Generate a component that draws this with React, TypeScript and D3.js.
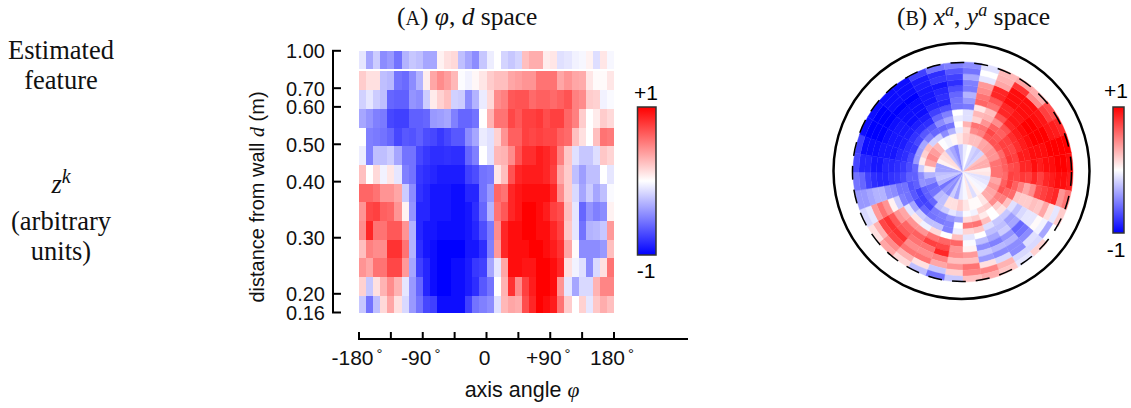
import React from "react";
import * as d3 from "d3";

// distance from wall at the edges of each polar ring, wall side last
const distanceEdges = [1.14, 0.89, 0.79, 0.7375, 0.685, 0.6325, 0.58, 0.5275, 0.475, 0.4225, 0.37, 0.3175, 0.265, 0.2125, 0.16];
const angleEdges = d3.range(-180, 181, 10);

const yTickLabels = ["1.00", "0.70", "0.60", "0.50", "0.40", "0.30", "0.20", "0.16"];
const yTickRows = [0, 2, 3, 5, 7, 10, 13, 14];
const xTicks = [-180, -135, -90, -45, 0, 45, 90, 135, 180];
const xTickLabels = ["-180", "-90", "0", "+90", "180"];
const xTickLabelAngles = [-180, -90, 0, 90, 180];

// one row per distance band (far from wall first), one value per 10 degree bin
const z0 = [-0.1, -0.35, -0.2, -0.45, -0.4, -0.55, -0.3, -0.22, -0.25, -0.35, -0.35, 0.05, 0.12, 0.15, -0.25, -0.35, -0.45, -0.22, -0.07, 0, -0.17, -0.22, -0.17, 0.25, 0.32, 0.32, 0.07, 0.1, -0.12, -0.1, -0.05, -0.03, 0.05, -0.13, 0.1, -0.03];
const z1 = [0.2, 0.12, 0.12, -0.25, -0.28, -0.55, -0.58, -0.45, -0.3, 0.07, 0.35, 0.45, 0.38, 0.28, -0.01, -0.05, 0.03, 0.1, 0.2, 0.25, 0.25, 0.35, 0.38, 0.42, 0.42, 0.55, 0.55, 0.55, 0.35, 0.42, 0.35, 0.33, 0.1, 0.02, 0.02, 0.1];
const z2 = [-0.18, -0.1, -0.2, -0.25, -0.6, -0.62, -0.62, -0.42, -0.45, -0.2, 0.08, 0.18, 0.25, -0.18, -0.2, -0.45, -0.3, -0.08, 0.15, 0.45, 0.5, 0.65, 0.68, 0.68, 0.58, 0.62, 0.62, 0.58, 0.62, 0.68, 0.5, 0.45, 0.2, 0.18, -0.05, -0.02];
const z3 = [-0.35, -0.42, -0.5, -0.52, -0.72, -0.75, -0.75, -0.62, -0.62, -0.6, -0.4, -0.38, -0.35, -0.5, -0.6, -0.6, -0.55, 0, 0.3, 0.55, 0.55, 0.72, 0.65, 0.75, 0.75, 0.78, 0.7, 0.75, 0.75, 0.6, 0.5, 0.2, 0, 0.08, 0.2, 0.15];
const z4 = [0, -0.5, -0.52, -0.55, -0.6, -0.72, -0.65, -0.68, -0.62, -0.7, -0.72, -0.78, -0.72, -0.65, -0.65, -0.45, -0.35, -0.08, -0.12, 0.18, 0.42, 0.62, 0.62, 0.75, 0.72, 0.75, 0.72, 0.72, 0.62, 0.58, 0.25, 0.12, 0, 0.25, 0.55, 0.52];
const z5 = [-0.07, -0.5, -0.25, -0.25, -0.2, -0.35, -0.55, -0.55, -0.72, -0.78, -0.82, -0.82, -0.8, -0.82, -0.82, -0.6, -0.5, 0, -0.12, 0.28, 0.3, 0.45, 0.68, 0.82, 0.82, 0.88, 0.85, 0.78, 0.5, 0.22, -0.12, -0.22, -0.22, -0.13, 0.22, 0.17];
const z6 = [0.25, 0, 0.15, -0.05, 0.1, -0.1, -0.5, -0.55, -0.78, -0.82, -0.85, -0.88, -0.88, -0.88, -0.88, -0.75, -0.7, -0.55, -0.52, 0.1, 0.25, 0.68, 0.85, 0.9, 0.9, 0.88, 0.85, 0.75, 0.35, 0.2, -0.25, -0.38, -0.25, -0.25, 0, -0.1];
const z7 = [0.6, 0.6, 0.55, 0.42, 0.42, 0.35, -0.2, -0.45, -0.8, -0.85, -0.9, -0.9, -0.9, -0.95, -0.95, -0.85, -0.85, -0.55, -0.4, 0.6, 0.55, 0.85, 0.92, 0.95, 0.95, 0.95, 0.95, 0.85, 0.45, 0.2, -0.15, -0.35, -0.2, -0.35, -0.25, -0.02];
const z8 = [0.42, 0.72, 0.75, 0.62, 0.6, 0.42, 0.05, -0.42, -0.85, -0.85, -0.9, -0.92, -0.92, -0.95, -0.95, -0.9, -0.82, -0.6, -0.3, 0.55, 0.65, 0.85, 0.92, 1, 1, 0.95, 0.9, 0.75, 0.7, 0.25, -0.1, -0.6, -0.42, -0.5, -0.45, 0.05];
const z9 = [0.45, 0.85, 0.55, 0.55, 0.65, 0.65, 0.42, -0.3, -0.85, -0.9, -0.92, -0.95, -0.95, -0.97, -0.97, -0.92, -0.85, -0.7, -0.52, 0.45, 0.85, 0.95, 0.95, 1, 1, 0.95, 0.95, 0.85, 0.75, 0.22, -0.1, -0.55, -0.3, -0.28, -0.22, 0.4];
const z10 = [0.25, 0.5, 0.45, 0.45, 0.8, 0.8, 0.55, -0.3, -0.82, -0.9, -0.95, -0.98, -1, -1, -0.98, -0.92, -0.9, -0.82, -0.5, 0.4, 0.85, 0.95, 0.95, 0.95, 1, 0.98, 0.95, 0.9, 0.8, 0.35, 0.02, -0.45, -0.45, -0.45, -0.4, 0.25];
const z11 = [0.42, 0.35, 0.55, 0.55, 0.72, 0.72, 0.4, -0.35, -0.75, -0.85, -0.95, -1, -1, -0.95, -0.95, -0.88, -0.78, -0.75, -0.35, -0.1, 0.35, 0.95, 0.95, 0.92, 0.92, 1, 1, 0.95, 0.85, 0.12, -0.05, -0.12, -0.45, -0.15, 0.12, 0.55];
const z12 = [0.18, -0.22, 0.12, 0.3, 0.45, 0.3, -0.1, -0.4, -0.6, -0.85, -0.95, -1, -0.98, -0.95, -0.95, -0.88, -0.82, -0.65, -0.55, 0, 0.3, 0.8, 0.45, 0.75, 0.9, 1, 1, 0.95, 0.42, -0.1, -0.35, -0.15, -0.15, 0.3, 0.48, 0.48];
const z13 = [-0.22, -0.55, -0.25, 0.15, 0.35, 0.12, -0.15, -0.4, -0.55, -0.72, -0.75, -0.95, -0.95, -0.95, -0.95, -0.75, -0.55, -0.5, -0.45, -0.12, 0.28, 0.35, 0.32, 0.7, 0.85, 1, 0.95, 0.9, 0.55, 0.2, 0, 0.18, -0.1, 0.22, 0.32, 0.25];
const zRows = [z0, z1, z2, z3, z4, z5, z6, z7, z8, z9, z10, z11, z12, z13];

const WIDTH = 1131;
const HEIGHT = 408;
const SERIF = "'Liberation Serif', serif";
const SANS = "'Liberation Sans', Arial, sans-serif";

const color = d3.scaleLinear<string>().domain([-1, 0, 1]).range(["#0000ff", "#ffffff", "#ff0000"]);
const x = d3.scaleLinear().domain([-180, 180]).range([359, 614]);
const yRow = d3.scaleLinear().domain([0, 14]).range([50.8, 312.5]);
const angle = d3.scaleLinear().domain([-180, 180]).range([-Math.PI, Math.PI]);
const radius = d3.scaleLinear().domain([0, 1.14]).range([128, 0]);
const arc = d3.arc();
const gradientStops = d3.range(1, -1.01, -0.25);

function ColorBar({ id, x0, x1, y0, y1, plusY, minusY, labelX }: any) {
  const barY = d3.scaleLinear().domain([1, -1]).range([y0, y1]);
  return (
    <g>
      <rect x={x0} y={barY(1)} width={x1 - x0} height={barY(-1) - barY(1)} fill={`url(#${id})`} stroke="#333" strokeWidth={1.5} />
      <text x={labelX} y={plusY} textAnchor="middle" fontFamily={SANS} fontSize={21}>+1</text>
      <text x={labelX} y={minusY} textAnchor="middle" fontFamily={SANS} fontSize={21}>-1</text>
    </g>
  );
}

export default function App() {
  return (
    <svg width={WIDTH} height={HEIGHT} style={{ position: "absolute", left: 0, top: 0, background: "#fff" }}>
      <defs>
        {["barA", "barB"].map((id) => (
          <linearGradient key={id} id={id} x1="0" y1="0" x2="0" y2="1">
            {gradientStops.map((v) => (
              <stop key={v} offset={(1 - v) / 2} stopColor={color(v)} />
            ))}
          </linearGradient>
        ))}
        <filter id="soft" x="-5%" y="-5%" width="110%" height="110%">
          <feGaussianBlur stdDeviation={0.7} />
        </filter>
        <clipPath id="plotClip">
          <rect x={x(-180)} y={yRow(0)} width={x(180) - x(-180)} height={yRow(14) - yRow(0) + 0.5} />
        </clipPath>
      </defs>

      {/* left captions */}
      <g fontFamily={SERIF} fontSize={26.5} textAnchor="middle" fill="#111">
        <text x={61} y={59}>Estimated</text>
        <text x={61} y={89}>feature</text>
        <text x={61} y={193} fontStyle="italic">z<tspan dy={-10} fontSize={20}>k</tspan></text>
        <text x={61} y={230}>(arbitrary</text>
        <text x={61} y={260}>units)</text>
      </g>

      {/* titles */}
      <g fontFamily={SERIF} fontSize={25.5} fill="#111">
        <text x={397} y={25}>(<tspan fontSize={20}>A</tspan>) <tspan fontStyle="italic">φ</tspan>, <tspan fontStyle="italic">d</tspan> space</text>
        <text x={897} y={25}>(<tspan fontSize={20}>B</tspan>) <tspan fontStyle="italic">x<tspan dy={-9} fontSize={18}>a</tspan></tspan><tspan dy={9}>, </tspan><tspan fontStyle="italic">y<tspan dy={-9} fontSize={18}>a</tspan></tspan><tspan dy={9}> space</tspan></text>
      </g>

      {/* panel A */}
      <g clipPath="url(#plotClip)">
        <g filter="url(#soft)">
          {zRows.map((row, i) =>
            row.map((v, j) => (
              <rect
                key={`${i}-${j}`}
                x={x(angleEdges[j])}
                y={i === 0 ? yRow(0) : yRow(i) + 2}
                width={x(angleEdges[j + 1]) - x(angleEdges[j]) + 0.3}
                height={i === 0 ? yRow(1) - yRow(0) - 0.4 : yRow(i + 1) - yRow(i) + 0.3}
                fill={color(v)}
                shapeRendering="crispEdges"
              />
            ))
          )}
        </g>
      </g>

      <g stroke="#000" strokeWidth={2} fill="none">
        <path d={`M333,${yRow(0)}V${yRow(14)}`} />
        {yTickRows.map((r) => (
          <path key={r} d={`M332,${yRow(r)}H341`} />
        ))}
        <path d={`M${x(-180) - 1},339H688`} />
        {xTicks.map((t) => (
          <path key={t} d={`M${x(t)},339V332`} />
        ))}
      </g>
      <g fontFamily={SANS} fontSize={20} fill="#111">
        {yTickLabels.map((label, i) => (
          <text key={label} x={325} y={yRow(yTickRows[i]) + 7.5} textAnchor="end">{label}</text>
        ))}
        {xTickLabels.map((label, i) => (
          <text key={label} x={x(xTickLabelAngles[i]) - 2} y={365} textAnchor="middle" fontSize={21}>
            {label}
            {label !== "0" && <tspan dx={3} dy={-6} fontSize={15}>°</tspan>}
          </text>
        ))}
        <text transform="translate(264,197) rotate(-90)" textAnchor="middle">
          distance from wall <tspan fontFamily={SERIF} fontStyle="italic">d</tspan> (m)
        </text>
        <text x={522} y={397} textAnchor="middle" fontSize={21.5}>
          axis angle <tspan fontFamily={SERIF} fontStyle="italic">φ</tspan>
        </text>
      </g>
      <ColorBar id="barA" x0={637.5} x1={656} y0={107} y1={255} plusY={100} minusY={278} labelX={646} />

      {/* panel B */}
      <g transform="translate(963,172)" filter="url(#soft)">
        {zRows.map((row, i) =>
          row.map((v, j) => (
            <path
              key={`${i}-${j}`}
              d={arc({
                innerRadius: radius(distanceEdges[i]),
                outerRadius: radius(distanceEdges[i + 1]),
                startAngle: angle(angleEdges[j]),
                endAngle: angle(angleEdges[j + 1]),
              }) as string}
              fill={color(v)}
              stroke={color(v)}
              strokeWidth={0.4}
            />
          ))
        )}
      </g>
      <circle cx={962} cy={172} r={radius(0.16) - 0.5} fill="none" stroke="#000" strokeWidth={1.5} strokeDasharray="14 10" />
      <circle cx={961.5} cy={171} r={128} fill="none" stroke="#000" strokeWidth={2.5} />
      <ColorBar id="barB" x0={1113} x1={1124} y0={107} y1={233} plusY={98} minusY={257} labelX={1116} />
    </svg>
  );
}
